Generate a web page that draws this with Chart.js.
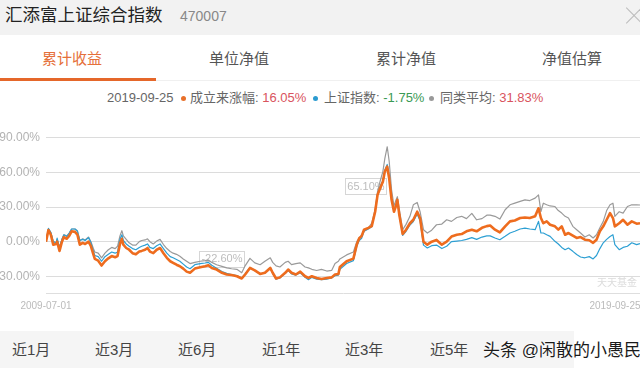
<!DOCTYPE html>
<html>
<head>
<meta charset="utf-8">
<script src="https://cdn.jsdelivr.net/npm/chart.js@4.4.1/dist/chart.umd.min.js"></script>
<style>
  body { margin:0; width:640px; height:368px; overflow:hidden; background:#fff; position:relative;
         font-family:"Liberation Sans","Noto Sans CJK SC",sans-serif; }
  .abs { position:absolute; white-space:nowrap; }
  #head { left:0; top:0; width:640px; height:35px; background:#f2f2f2; }
  #title { left:5px; top:5px; font-size:17.5px; line-height:20px; color:#222; }
  #code { left:180px; top:6px; font-size:14px; line-height:20px; color:#888; }
  .x-line { width:22px; height:1px; background:#bbb; top:15px; left:623px; }
  .tab { top:49px; width:100px; text-align:center; font-size:15px; line-height:20px; color:#555; }
  .tab.on { color:#e5703a; }
  #under { left:0; top:78px; width:156px; height:2.5px; background:#e5672a; }
  #sep { left:0; top:80px; width:640px; height:1px; background:#f0f0f0; }
  .leg { top:90px; font-size:13px; line-height:16px; color:#666; }
  .dot { width:5px; height:5px; border-radius:50%; top:95.5px; }
  .red { color:#d9545e; }
  .green { color:#3a9a55; }
  #box { left:0; top:110px; width:640px; height:210px; }
  #ttjj { left:597px; top:277px; font-size:10px; line-height:12px; color:#dcdcdc; }
  #band { left:0; top:331px; width:574px; height:37px; background:#f5f5f5; }
  .per { top:341px; font-size:15px; line-height:18px; color:#444; }
  #wm { left:483px; top:341px; font-size:17px; line-height:20px; color:#1a1a1a;
        text-shadow:0 0 2px #fff, 0 0 2px #fff; }
</style>
</head>
<body>
<div class="abs" id="head"></div>
<div class="abs" id="title">汇添富上证综合指数</div>
<div class="abs" id="code">470007</div>
<div class="abs x-line" style="transform:rotate(45deg)"></div>
<div class="abs x-line" style="transform:rotate(-45deg)"></div>

<div class="abs tab on" style="left:22px">累计收益</div>
<div class="abs tab" style="left:189px">单位净值</div>
<div class="abs tab" style="left:356px">累计净值</div>
<div class="abs tab" style="left:522px">净值估算</div>
<div class="abs" id="sep"></div>
<div class="abs" id="under"></div>

<div class="abs leg" style="left:107px">2019-09-25</div>
<div class="abs dot" style="left:181px;background:#e8702a"></div>
<div class="abs leg" style="left:190px">成立来涨幅: <span class="red">16.05%</span></div>
<div class="abs dot" style="left:313px;background:#2b9bd0"></div>
<div class="abs leg" style="left:324px">上证指数: <span class="green">-1.75%</span></div>
<div class="abs dot" style="left:429px;background:#999"></div>
<div class="abs leg" style="left:440px">同类平均: <span class="red">31.83%</span></div>

<div class="abs" id="box"><canvas id="chart"></canvas></div>
<div class="abs" id="ttjj">天天基金</div>

<div class="abs" id="band"></div>
<div class="abs per" style="left:12px">近1月</div>
<div class="abs per" style="left:95px">近3月</div>
<div class="abs per" style="left:178px">近6月</div>
<div class="abs per" style="left:262px">近1年</div>
<div class="abs per" style="left:345px">近3年</div>
<div class="abs per" style="left:430px">近5年</div>
<div class="abs" id="wm">头条 @闲散的小愚民</div>

<script>
// months since 2009-07-01
const months = [
  0.0, 0.5, 1.0, 1.5, 2.1, 2.3, 2.8, 3.3, 3.7, 4.3, 4.8, 5.3, 6.0, 6.5, 7.0, 7.6, 8.1, 8.8, 9.3, 9.8,
  10.1, 10.8, 11.5, 12.2, 12.9, 13.6, 14.3, 14.8, 15.3, 15.7, 16.0, 16.6, 17.2, 17.9, 18.6, 19.3, 19.8, 20.5, 21.0, 21.5,
  22.2, 22.9, 23.6, 24.3, 25.0, 25.7, 26.3, 27.0, 27.7, 28.4, 29.1, 29.8, 30.8, 31.9, 32.9, 33.6, 34.3, 35.3, 36.4, 37.4,
  38.4, 39.5, 40.5, 41.2, 42.2, 43.2, 44.3, 45.3, 46.4, 46.9, 47.6, 48.4, 49.5, 50.1, 50.8, 51.7, 52.6, 53.6, 54.3, 55.0,
  56.0, 57.0, 58.1, 59.1, 59.8, 60.5, 60.8, 62.2, 63.6, 64.3, 64.8, 65.3, 65.8, 66.7, 67.4, 68.1, 68.6, 69.1, 69.7, 70.1,
  70.6, 71.0, 71.5, 72.0, 72.4, 72.7, 73.1, 73.8, 74.5, 75.3, 76.0, 76.8, 77.4, 78.1, 78.9, 79.8, 80.8, 81.9, 82.9, 83.9,
  85.0, 86.0, 87.0, 88.1, 89.1, 90.2, 91.2, 91.9, 92.9, 93.9, 95.0, 96.0, 97.0, 98.1, 99.1, 100.1, 101.2, 101.9, 102.4, 102.9,
  103.6, 104.3, 105.3, 106.0, 106.7, 107.4, 108.1, 109.0, 109.8, 110.6, 111.5, 112.4, 113.2, 113.9, 114.6, 115.3, 116.0, 116.7, 117.3, 117.7,
  118.6, 119.4, 120.3, 121.2, 122.2, 122.9
];
// 成立来涨幅
const fund = [
  0, 10, 6, -2.6, -2, 0, -8, 0, 4, 2.5, 5, 9, 8.5, 6, -2.6, -1, -2, 0, -4, -11,
  -15, -16.5, -20.7, -17, -14.5, -12.5, -13.5, -12.5, -2, 2.5, -2.6, -5.5, -7, -10, -11, -8.6, -8, -7, -5.5, -8.6,
  -10, -7, -5.5, -10, -14, -17, -18.4, -20, -21.3, -23.4, -26, -27, -23.4, -22.2, -21.3, -20.5, -22.8, -24.2, -27, -28.5,
  -29, -30, -32, -28.5, -22.8, -25, -28, -27, -22.8, -27, -32, -31, -27, -24.2, -27, -28.5, -26, -30, -31.5, -30,
  -31.5, -32.4, -31.5, -31, -28.5, -28, -22, -17, -14.7, -2.6, 3, 4.8, 10.4, 12, 13.5, 26, 40.6, 46, 52, 60.8,
  65.1, 55, 36.3, 26, 30.8, 36.3, 23.3, 6.6, 10.4, 16, 19, 26, 20.3, 0, -2.6, 0, 1.5, -2.6, 0, 4.4,
  6, 6.6, 9, 10.4, 9, 12, 13.5, 14, 10.4, 8, 13.3, 17.6, 18.4, 20.5, 21, 20.5, 22, 29, 20.5, 16,
  17.6, 14.7, 13.3, 10.4, 13.3, 6, 7.5, 5.2, 3.2, 4, 1.7, 1.2, -1, 1.7, 9, 13.3, 19, 24.8, 20.5, 13.3,
  16, 19, 14.7, 17.6, 15.6, 16.05
];
// 上证指数
const shIndex = [
  0, 11.5, 8, 0, -1, 3, -5, 2, 6, 4.5, 7.5, 11, 11, 9, 1, 2, 1, 3.5, -1, -8,
  -12, -13, -17, -13, -11, -9, -10, -9, 2, 6, 1, -2, -4, -6, -7, -5, -4, -3, -2, -5,
  -6, -3.5, -2, -6, -10, -13, -14, -15.5, -17, -19.5, -22, -23.5, -20, -19, -18.5, -18, -20.5, -23, -26, -27.5,
  -28.5, -29.5, -31.5, -28, -22.5, -25, -28, -27, -23, -27.5, -32.5, -31.5, -27.5, -25, -28, -29, -27, -31, -33, -31,
  -32.5, -33, -32.5, -31.5, -29.5, -29, -24, -19, -16.5, -4, 1, 3, 9, 11, 13, 26, 41, 47, 53, 62,
  67, 57, 37, 27, 31, 36, 23, 5.5, 9, 14.5, 17.5, 24, 18, -3, -5.5, -3.5, -3, -6, -4, 0,
  0.5, 1, 2, 3.5, 2, 4, 5, 5, 3.2, 1.7, 4.6, 7.5, 9, 11, 11.8, 11, 10.4, 17.6, 7.5, 7.5,
  6, 4.6, 0.3, -2, -5, -7, -5.5, -8.4, -11.2, -13.3, -14, -13, -15, -12, -6, -1, 2, 4.5, 6, -2.6,
  -7, -5, -4, -1, -2.6, -1.75
];
// 同类平均
const peer = [
  0, 11, 8, 0, -1, 2, -5, 2, 6, 5, 7.5, 11, 11, 9.5, 1, 2.5, 1.5, 4, 0, -6,
  -9, -10, -14, -10, -7, -5, -6, -4, 5, 9.5, 5, 2, -1, -3, -3, 0, 1, 1.5, 2.5, 0,
  -2, 0.5, 2, -2.5, -6, -8.5, -10, -11, -12.7, -15, -17, -19, -18, -17, -16.5, -16, -18, -20, -21.5, -22.8,
  -23.5, -24, -27, -21, -14.5, -18.4, -20, -17, -14, -18, -21, -22, -18, -17, -20, -19, -18.4, -22, -22.8, -24,
  -25, -24, -25.5, -25, -19, -17, -15, -11.5, -9, 0, 3, 6, 9, 12, 16, 28, 43.5, 52, 60.8, 72,
  82.4, 70, 45, 30.8, 36, 39, 28, 10.4, 15, 22, 32, 34, 26, 10.4, 7.5, 10, 14.7, 15.3, 19, 17.6,
  21, 22, 20, 24.5, 19, 20, 23, 23, 22, 19.6, 27.7, 32, 33.4, 35, 36.3, 35.7, 37.8, 40.6, 26, 33.4,
  32, 31, 30.5, 27, 24.8, 22, 20.5, 13.3, 10.4, 7.5, 4, 6, 3.2, 6, 12, 17.6, 27, 32, 33.4, 22,
  26, 24.8, 30.5, 32, 32, 31.83
];
const yTicks = [-30, 0, 30, 60, 90];
const dateLabels = ['2009-07-01', '2019-09-25'];

// boxed value marks (text, month, value where the box sits)
const markText = ['65.10%', '-22.60%'];
const markX = [66.2, 36.4];
const markY = [48, -14.7];

function pts(arr) {
  return months.map((m, i) => ({ x: m, y: arr[i] }));
}

const marksPlugin = {
  id: 'marks',
  beforeDatasetsDraw(chart) {
    const ctx = chart.ctx;
    const xs = chart.scales.x, ys = chart.scales.y;
    ctx.save();
    ctx.font = '11px "Liberation Sans", sans-serif';
    ctx.textAlign = 'center';
    ctx.textBaseline = 'middle';
    markText.forEach((t, i) => {
      const cx = xs.getPixelForValue(markX[i]);
      const cy = ys.getPixelForValue(markY[i]);
      const w = ctx.measureText(t).width + 4;
      const h = 16;
      ctx.fillStyle = '#fff';
      ctx.strokeStyle = '#d6d6d6';
      ctx.lineWidth = 1;
      ctx.fillRect(cx - w / 2, cy - h / 2, w, h);
      ctx.strokeRect(Math.round(cx - w / 2) + 0.5, Math.round(cy - h / 2) + 0.5, Math.round(w), h);
      ctx.fillStyle = '#bdbdbd';
      ctx.fillText(t, cx, cy + 0.5);
    });
    ctx.restore();
  }
};

new Chart(document.getElementById('chart'), {
  type: 'line',
  data: {
    datasets: [
      { label: '成立来涨幅', data: pts(fund), borderColor: '#ee6c1e', borderWidth: 2.6 },
      { label: '上证指数', data: pts(shIndex), borderColor: '#2c9fd3', borderWidth: 1.2 },
      { label: '同类平均', data: pts(peer), borderColor: '#9a9a9a', borderWidth: 1.2 }
    ]
  },
  options: {
    responsive: true,
    maintainAspectRatio: false,
    animation: false,
    layout: { padding: { top: 10.7, left: 0, right: 0, bottom: 0 } },
    plugins: { legend: { display: false }, tooltip: { enabled: false } },
    elements: { point: { radius: 0 }, line: { tension: 0, borderJoinStyle: 'round' } },
    scales: {
      x: {
        type: 'linear',
        min: months[0],
        max: months[months.length - 1],
        grid: { display: true, drawOnChartArea: false, drawTicks: false },
        border: { display: true, color: '#dedede', width: 1 },
        ticks: {
          color: '#bbb',
          font: { family: '"Liberation Sans", sans-serif', size: 10 },
          padding: 7,
          maxRotation: 0,
          autoSkip: false,
          callback: (v, i) => i === 0 ? dateLabels[0] : dateLabels[1] + '                  '
        },
        afterBuildTicks: s => { s.ticks = [{ value: months[0] }, { value: months[months.length - 1] }]; },
        afterFit: s => { s.height = 26.5; s.paddingLeft = 0; s.paddingRight = 0; }
      },
      y: {
        min: -45,
        max: 105,
        grid: { color: '#dcdcdc', lineWidth: 1, drawTicks: false },
        border: { display: false },
        ticks: {
          color: '#b3b3b3',
          font: { family: '"Liberation Sans", sans-serif', size: 12 },
          padding: 6,
          callback: v => v.toFixed(2) + '%'
        },
        afterBuildTicks: s => { s.ticks = yTicks.map(v => ({ value: v })); },
        afterFit: s => { s.width = 46; s.paddingTop = 0; s.paddingBottom = 0; }
      }
    }
  },
  plugins: [marksPlugin]
});
</script>
</body>
</html>
